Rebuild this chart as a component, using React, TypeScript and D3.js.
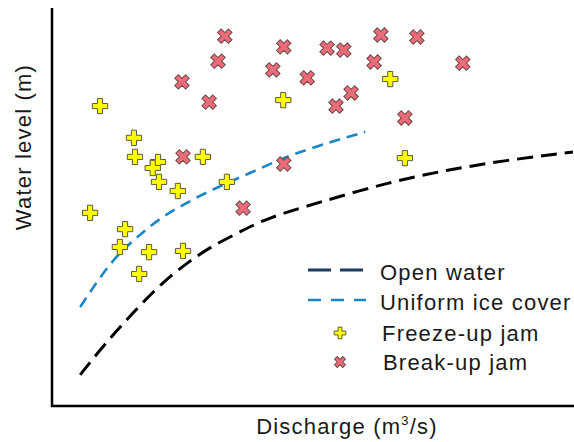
import React from 'react';
import * as d3 from 'd3';

// discharge / water level, arbitrary units (0-100)
const openWaterQ = [5.4, 9.2, 13.0, 16.9, 21.3, 25.9, 30.3, 36.0, 41.2, 50.8, 64.8, 75.7, 87.2, 99.8];
const openWaterH = [7.6, 13.9, 19.6, 25.2, 31.0, 35.8, 39.8, 43.6, 47.1, 50.9, 56.2, 59.2, 61.7, 63.7];

const iceCoverQ = [5.4, 9.2, 12.5, 16.3, 20.7, 25.1, 29.7, 37.9, 45.6, 53.3, 60.0];
const iceCoverH = [24.7, 32.2, 37.8, 42.3, 47.1, 50.4, 53.7, 58.4, 63.0, 66.2, 68.8];

const freezeQ = [9.2, 15.7, 15.9, 20.3, 19.3, 20.5, 24.1, 28.9, 33.5, 44.3, 7.3, 14.0, 13.0, 18.6, 25.1, 16.7, 64.8, 67.6];
const freezeH = [75.3, 67.3, 62.5, 61.2, 59.7, 56.2, 53.9, 62.5, 56.2, 76.8, 48.4, 44.3, 39.8, 38.5, 38.8, 33.0, 82.1, 62.2];

const breakQ = [33.1, 31.8, 24.9, 30.1, 42.3, 44.4, 25.1, 44.4, 36.6, 52.7, 55.9, 63.0, 69.9, 61.7, 78.7, 48.9, 57.3, 54.4, 67.6];
const breakH = [92.9, 86.6, 81.4, 76.3, 84.4, 90.2, 62.5, 60.7, 49.6, 89.9, 89.4, 93.2, 92.7, 86.4, 86.1, 82.4, 78.6, 75.3, 72.3];

const legendLabels = ['Open water', 'Uniform ice cover', 'Freeze-up jam', 'Break-up jam'];

const W = 574;
const H = 442;
const FONT = 'Arial, "Liberation Sans", sans-serif';

export default function App() {
  const x = d3.scaleLinear().domain([0, 100]).range([52, 574]);
  const y = d3.scaleLinear().domain([0, 100]).range([405, 8]);

  const curvePath = (qs: number[], hs: number[]) =>
    d3.line<number>()
      .x(i => x(qs[i]))
      .y(i => y(hs[i]))
      .curve(d3.curveBasis)(d3.range(qs.length)) || '';

  const openPath = curvePath(openWaterQ, openWaterH);
  const icePath = curvePath(iceCoverQ, iceCoverH);

  const plus = d3.symbol().type(d3.symbolCross).size(130)() || '';
  const plusSmall = d3.symbol().type(d3.symbolCross).size(75)() || '';

  const textStyle = { fontFamily: FONT, fontSize: 22, letterSpacing: 1.2, fill: '#1a1a1a' };

  return (
    <svg width={W} height={H} style={{ position: 'absolute', left: 0, top: 0, background: '#fff' }}>
      {/* axes */}
      <line x1={52} x2={52} y1={8} y2={407} stroke="#000" strokeWidth={2.5} />
      <line x1={51} x2={574} y1={406} y2={406} stroke="#000" strokeWidth={2.5} />

      <path d={openPath} fill="none" stroke="#000" strokeWidth={3} strokeDasharray="16,8" />
      <path d={icePath} fill="none" stroke="#1a86c8" strokeWidth={2.6} strokeDasharray="11,7" />

      {freezeQ.map((q, i) => (
        <path key={'f' + i} d={plus} transform={`translate(${x(q)},${y(freezeH[i])})`}
          fill="#ffff00" stroke="#5a5a40" strokeWidth={1} />
      ))}
      {breakQ.map((q, i) => (
        <path key={'b' + i} d={plus} transform={`translate(${x(q)},${y(breakH[i])}) rotate(45)`}
          fill="#ec6b78" stroke="#6a4a4a" strokeWidth={1} />
      ))}

      {/* legend */}
      <line x1={308} x2={366} y1={270} y2={270} stroke="#1c3c5e" strokeWidth={3} strokeDasharray="23,9" />
      <line x1={308} x2={366} y1={300} y2={300} stroke="#1a86c8" strokeWidth={2.6} strokeDasharray="13,10" />
      <path d={plusSmall} transform="translate(340,333)" fill="#ffff00" stroke="#5a5a40" strokeWidth={1} />
      <path d={plusSmall} transform="translate(340,362) rotate(45)" fill="#ec6b78" stroke="#6a4a4a" strokeWidth={1} />
      <text x={380} y={280} style={textStyle}>{legendLabels[0]}</text>
      <text x={380} y={310} style={textStyle}>{legendLabels[1]}</text>
      <text x={382} y={341} style={textStyle}>{legendLabels[2]}</text>
      <text x={383} y={370} style={textStyle}>{legendLabels[3]}</text>

      {/* axis titles */}
      <text x={347} y={434} textAnchor="middle" style={textStyle}>
        Discharge (m<tspan fontSize={13} dy={-9}>3</tspan><tspan dy={9}>/s)</tspan>
      </text>
      <text transform="translate(31,147) rotate(-90)" textAnchor="middle" style={textStyle}>
        Water level (m)
      </text>
    </svg>
  );
}
